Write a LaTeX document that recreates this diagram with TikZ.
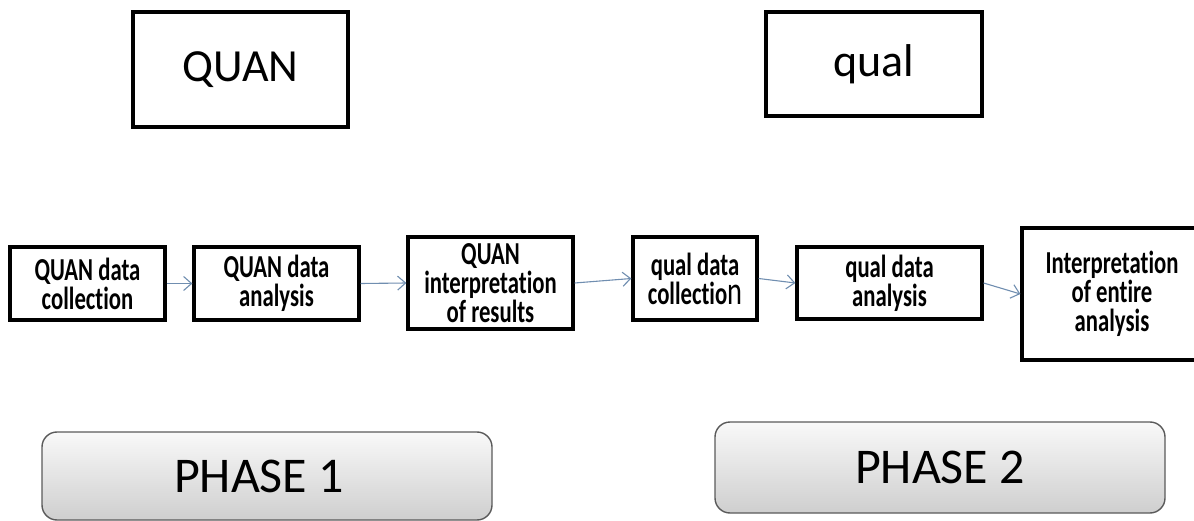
\documentclass[tikz,border=0pt]{standalone}
\usepackage{fontspec}
\setmainfont{Carlito}[Ligatures=NoCommon]
\usetikzlibrary{arrows.meta}
\definecolor{flowblue}{RGB}{112,142,176}
\definecolor{phaseedge}{RGB}{90,90,90}
% narrow bold lettering for the step boxes
\newcommand\nar[1]{\scalebox{0.71}[1]{#1}}
\newcommand\steplines{\bfseries\fontsize{32}{29}\selectfont\setlength{\lineskiplimit}{-40pt}\relax}
\tikzset{
  headbox/.style={draw=black, line width=3.5pt, inner sep=0pt,
    font=\fontsize{46}{50}\selectfont},
  stepbox/.style={draw=black, line width=3.2pt, inner sep=0pt, align=center,
    font=\steplines},
  phasebox/.style={draw=phaseedge, line width=1.4pt, rounded corners=15pt,
    top color=gray!5, bottom color=gray!38, inner sep=0pt,
    font=\fontsize{50}{54}\selectfont},
  flow/.style={draw=flowblue, line width=1.1pt,
    -{Straight Barb[length=8pt,width=14pt,line width=1.1pt]}}
}
\begin{document}
\begin{tikzpicture}[x=1pt,y=-1pt]
\useasboundingbox (0,0) rectangle (1194,521);

% method labels
\node[headbox, minimum width=215pt, minimum height=115pt] (quan) at (240.5,69.5) {QUAN};
\node[headbox, minimum width=216pt, minimum height=104pt] (qual) at (874,64) {qual};

% sequence of steps
\node[stepbox, minimum width=155pt, minimum height=73pt] (s1) at (87.5,283.5)
  {\nar{QUAN data}\\\nar{collection}};
\node[stepbox, minimum width=165pt, minimum height=73pt] (s2) at (276.5,283.5)
  {\nar{QUAN data}\\\nar{analysis}};
\node[stepbox, minimum width=165pt, minimum height=92pt] (s3) at (490.5,283)
  {\nar{QUAN}\\\nar{interpretation}\\\nar{of results}};
\node[stepbox, minimum width=124pt, minimum height=83pt] (s4) at (695,278.5)
  {\nar{qual data}\\\nar{collectio{\mdseries\fontsize{40}{29}\selectfont n}}};
\node[stepbox, minimum width=185pt, minimum height=72pt] (s5) at (889.5,283)
  {\nar{qual data}\\\nar{analysis}};
\node[stepbox, minimum width=180pt, minimum height=132pt] (s6) at (1112,294)
  {\nar{Interpretation}\\\nar{of entire}\\\nar{analysis}};

\draw[flow] (s1.east) -- (s2.west);
\draw[flow] (s2.east) -- (s3.west);
\draw[flow] (s3.east) -- (s4.west);
\draw[flow] (s4.east) -- (s5.west);
\draw[flow] (s5.east) -- (s6.west);

% phase banners
\node[phasebox, minimum width=450pt, minimum height=88pt] (p1) at (267,476)
  {\hspace*{-16pt}PHASE 1};
\node[phasebox, minimum width=450pt, minimum height=91pt] (p2) at (940,467.5) {PHASE 2};
\end{tikzpicture}
\end{document}
